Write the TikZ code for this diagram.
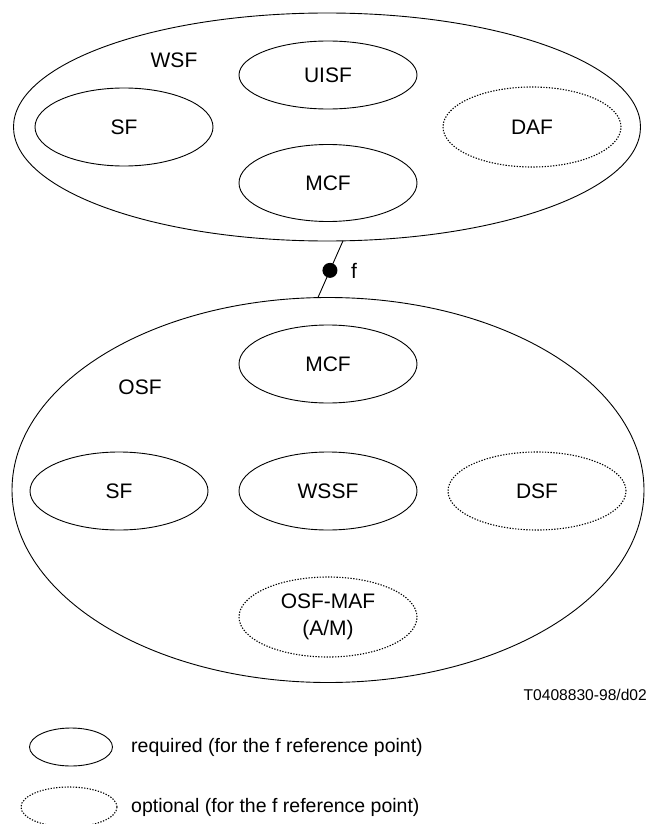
\documentclass[tikz,border=0pt]{standalone}
\usepackage{fontspec}
\setmainfont{Liberation Sans}
\usetikzlibrary{shapes.geometric}

\tikzset{
  base/.style={ellipse, draw, line width=0.9pt, inner sep=0pt, outer sep=0pt,
    font=\fontsize{21}{25}\selectfont},
  req/.style={base, minimum width=178pt, minimum height=78pt},
  dotline/.style={line width=1.1pt, dash pattern=on 1.3pt off 1.5pt},
  opt/.style={req, dotline},
  outer/.style={ellipse, draw, line width=0.9pt, inner sep=0pt, outer sep=0pt},
  lbl/.style={font=\fontsize{21}{25}\selectfont, inner sep=0pt},
  dot/.style={circle, fill=black, inner sep=0pt, minimum size=15pt},
  legtext/.style={anchor=west, font=\fontsize{19.5}{23}\selectfont, inner sep=0pt},
}

\begin{document}
\begin{tikzpicture}[x=1pt, y=-1pt]
  \useasboundingbox (0,0) rectangle (648,824);

  % workstation function block
  \node[outer, minimum width=627pt, minimum height=228pt] (wsf) at (327,127) {};
  \node[lbl] (wsflabel) at (174,60) {WSF};
  \node[req, minimum height=68pt] (uisf) at (328,75) {UISF};
  \node[req] (wsfsf) at (124,127) {SF};
  \node[opt, minimum height=80pt] (daf) at (532,127) {DAF};
  \node[req, minimum height=77pt] (wsfmcf) at (328,183) {MCF};

  % operations system function block
  \node[outer, minimum width=632pt, minimum height=385pt] (osf) at (328,490) {};
  \node[lbl] (osflabel) at (140,387) {OSF};
  \node[req] (osfmcf) at (328,364) {MCF};
  \node[req] (osfsf) at (119,491) {SF};
  \node[req] (wssf) at (328,491) {WSSF};
  \node[opt] (dsf) at (537,491) {DSF};
  \node[opt, minimum height=80pt, align=center,
        font=\fontsize{21}{27}\selectfont] (osfmaf) at (328,617) {OSF-MAF\\(A/M)};

  % f reference point
  \draw[line width=0.9pt] (wsf.-82.5) -- node[dot, pos=0.52] (fpt) {} (osf.93);
  \node[lbl, anchor=west] (flabel) at (351,271) {f};

  \node[anchor=east, inner sep=0pt, font=\fontsize{15.6}{18}\selectfont] (figid) at (647,695) {T0408830-98/d02};

  % legend
  \node[base, minimum width=83pt, minimum height=38pt] (legreq) at (71,747) {};
  \node[legtext] (legreqtext) at (131,747) {required (for the f reference point)};
  \node[base, dotline, minimum width=96pt, minimum height=40pt] (legopt) at (69,807) {};
  \node[legtext] (legopttext) at (131,807) {optional (for the f reference point)};
\end{tikzpicture}
\end{document}
